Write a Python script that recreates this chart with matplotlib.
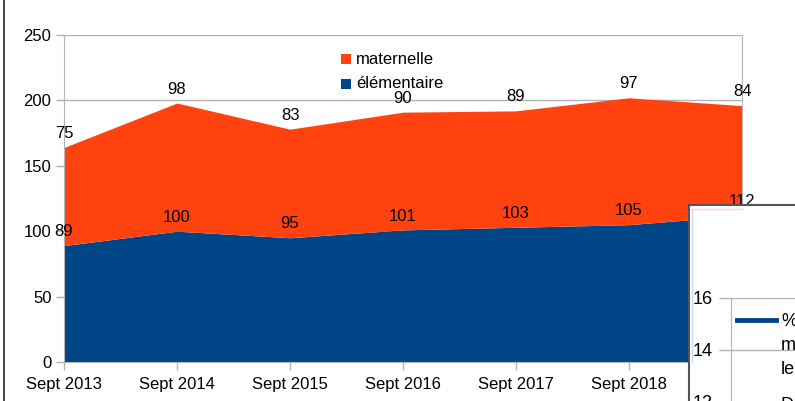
import matplotlib
matplotlib.use("Agg")
import matplotlib.pyplot as plt
from matplotlib.patches import Rectangle
from matplotlib.lines import Line2D

plt.rcParams['font.family'] = ['Liberation Sans', 'DejaVu Sans']

categories = ["Sept 2013", "Sept 2014", "Sept 2015", "Sept 2016", "Sept 2017", "Sept 2018", "Sept 2019"]
elementaire = [89, 100, 95, 101, 103, 105, 112]
maternelle = [75, 98, 83, 90, 89, 97, 84]
yticks = [0, 50, 100, 150, 200, 250]

BLUE = "#004586"
ORANGE = "#ff420e"
GRID = "#b3b3b3"

W, H = 795, 401
fig = plt.figure(figsize=(W / 100, H / 100), dpi=100)

def fx(px):
    return px / W

def fy(py):
    return (H - py) / H

# main axes: x 64..742 px, y 35..362 px
ax = fig.add_axes([fx(64), fy(362), fx(742) - fx(64), fy(35) - fy(362)])
x = list(range(len(categories)))
total = [e + m for e, m in zip(elementaire, maternelle)]
ax.fill_between(x, 0, elementaire, color=BLUE, linewidth=0, zorder=2)
ax.fill_between(x, elementaire, total, color=ORANGE, linewidth=0, zorder=2)
ax.set_xlim(0, len(categories) - 1)
ax.set_ylim(0, 250)
ax.set_yticks(yticks)
ax.set_xticks(x)
ax.set_xticklabels(categories)
ax.yaxis.grid(True, color=GRID, linewidth=1)
ax.set_axisbelow(True)
ax.spines["top"].set_visible(False)
ax.spines["left"].set_color(GRID)
ax.spines["bottom"].set_color(GRID)
ax.spines["right"].set_color(GRID)
ax.tick_params(axis="both", colors=GRID, labelcolor="black", labelsize=12, length=6, width=1)
ax.tick_params(axis="x", pad=4.5)
ax.tick_params(axis="y", pad=3)

for i in x:
    ax.annotate(str(elementaire[i]), (i, elementaire[i]), xytext=(0, 10), textcoords="offset points",
                ha="center", va="center", fontsize=12, zorder=5)
    ax.annotate(str(maternelle[i]), (i, total[i]), xytext=(0, 10), textcoords="offset points",
                ha="center", va="center", fontsize=12, zorder=5)

# legend
fig.patches.append(Rectangle((fx(340.5), fy(63.7)), 10 / W, 10 / H, transform=fig.transFigure,
                             facecolor=ORANGE, edgecolor="none"))
fig.patches.append(Rectangle((fx(340.5), fy(89)), 10 / W, 10 / H, transform=fig.transFigure,
                             facecolor=BLUE, edgecolor="none"))
fig.text(fx(356), fy(59), "maternelle", fontsize=12, va="center", ha="left")
fig.text(fx(356), fy(83), "élémentaire", fontsize=12, va="center", ha="left")

# left frame line
fig.add_artist(Line2D([fx(4), fx(4)], [0, 1], transform=fig.transFigure, color="#222222", linewidth=1.2))

# overlapping second chart (clipped at figure edge)
fig.patches.append(Rectangle((fx(689), fy(460)), 200 / W, 255 / H, transform=fig.transFigure,
                             facecolor="white", edgecolor="#555555", linewidth=1.5, zorder=10))
fig.add_artist(Line2D([fx(692), fx(742)], [fy(209), fy(209)], transform=fig.transFigure,
                      color="#ffd6cc", linewidth=1, zorder=11))
fig.add_artist(Line2D([fx(692), fx(692)], [fy(209), fy(362)], transform=fig.transFigure,
                      color="#d0d8e4", linewidth=1, zorder=11))

ax2 = fig.add_axes([fx(731), fy(454), fx(950) - fx(731), fy(298) - fy(454)], zorder=12)
ax2.patch.set_alpha(0)
ax2.set_ylim(10, 16)
ax2.set_xlim(0, 1)
ax2.set_yticks([10, 12, 14, 16])
ax2.set_xticks([])
ax2.yaxis.grid(True, color=GRID, linewidth=1)
for s in ["top", "right", "bottom"]:
    ax2.spines[s].set_visible(False)
ax2.spines["left"].set_color(GRID)
ax2.tick_params(axis="y", colors=GRID, labelcolor="black", labelsize=13, length=9, width=1, pad=4)

fig.add_artist(Line2D([fx(737), fx(776)], [fy(320), fy(320)], transform=fig.transFigure,
                      color=BLUE, linewidth=3.5, zorder=13))
fig.text(fx(781), fy(321), "%", fontsize=13, va="center", ha="left", zorder=13)
fig.text(fx(781), fy(346), "m", fontsize=13, va="center", ha="left", zorder=13)
fig.text(fx(781), fy(370), "le", fontsize=13, va="center", ha="left", zorder=13)
fig.text(fx(781), fy(405), "D", fontsize=13, va="center", ha="left", zorder=13)

fig.savefig("out.png", dpi=100)
